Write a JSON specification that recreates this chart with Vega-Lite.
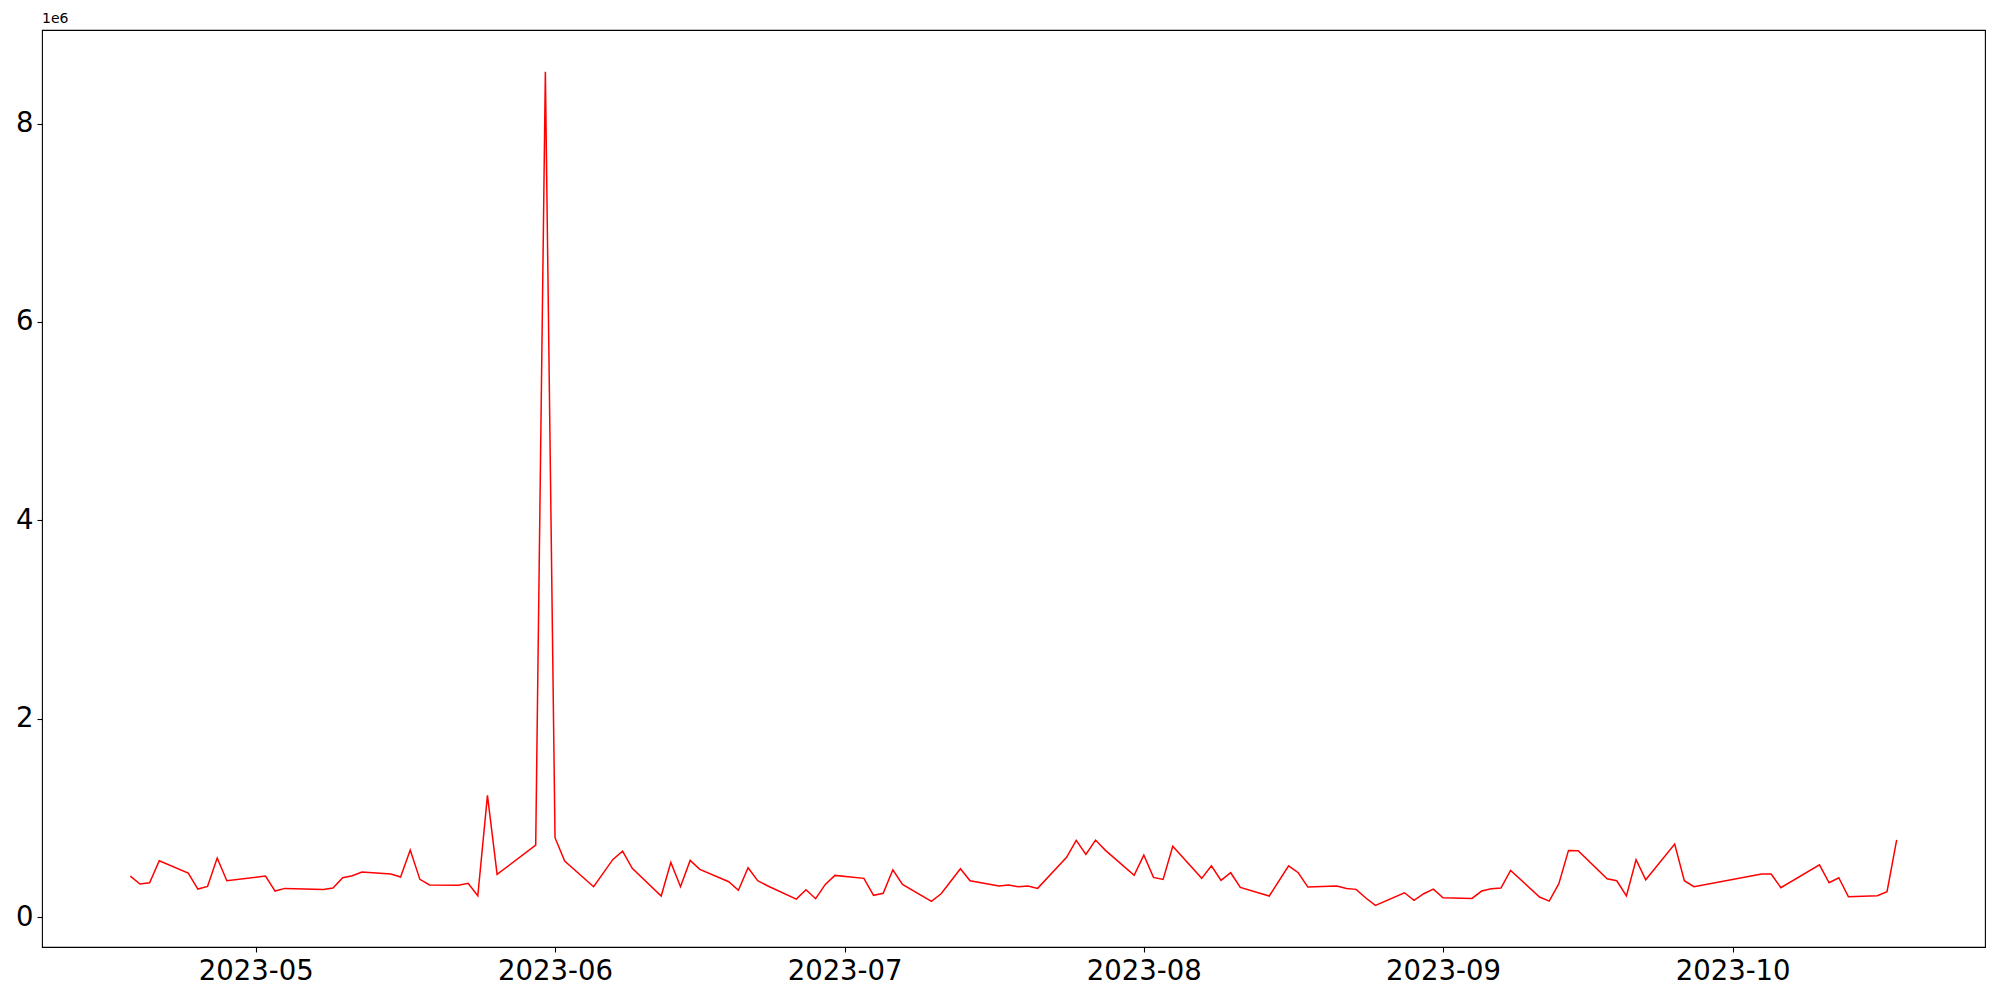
{
  "$schema": "https://vega.github.io/schema/vega-lite/v6.json",
  "autosize": "none",
  "width": 1943,
  "height": 917,
  "padding": {"left": 42, "top": 30, "right": 15, "bottom": 53},
  "background": "white",
  "config": {
    "view": {"stroke": "black", "strokeWidth": 1.1},
    "font": "DejaVu Sans",
    "axis": {"grid": false, "domain": false, "tickColor": "black", "tickSize": 5, "tickWidth": 1.1, "labelColor": "black", "labelFont": "DejaVu Sans", "labelFontSize": 27.5, "labelPadding": 4, "title": null}
  },
  "title": {"text": "1e6", "anchor": "start", "frame": "group", "fontSize": 14, "fontWeight": "normal", "font": "DejaVu Sans", "color": "black", "offset": 4},
  "data": {"values": [
    {"date": "2023-04-18", "volume": 413000},
    {"date": "2023-04-19", "volume": 333000},
    {"date": "2023-04-20", "volume": 346000},
    {"date": "2023-04-21", "volume": 568000},
    {"date": "2023-04-24", "volume": 443000},
    {"date": "2023-04-25", "volume": 282000},
    {"date": "2023-04-26", "volume": 309000},
    {"date": "2023-04-27", "volume": 595000},
    {"date": "2023-04-28", "volume": 366000},
    {"date": "2023-05-02", "volume": 413000},
    {"date": "2023-05-03", "volume": 262000},
    {"date": "2023-05-04", "volume": 289000},
    {"date": "2023-05-08", "volume": 279000},
    {"date": "2023-05-09", "volume": 292000},
    {"date": "2023-05-10", "volume": 396000},
    {"date": "2023-05-11", "volume": 417000},
    {"date": "2023-05-12", "volume": 454000},
    {"date": "2023-05-15", "volume": 433000},
    {"date": "2023-05-16", "volume": 403000},
    {"date": "2023-05-17", "volume": 675000},
    {"date": "2023-05-18", "volume": 380000},
    {"date": "2023-05-19", "volume": 323000},
    {"date": "2023-05-22", "volume": 320000},
    {"date": "2023-05-23", "volume": 340000},
    {"date": "2023-05-24", "volume": 215000},
    {"date": "2023-05-25", "volume": 1227000},
    {"date": "2023-05-26", "volume": 430000},
    {"date": "2023-05-30", "volume": 726000},
    {"date": "2023-05-31", "volume": 8524000},
    {"date": "2023-06-01", "volume": 800000},
    {"date": "2023-06-02", "volume": 565000},
    {"date": "2023-06-05", "volume": 306000},
    {"date": "2023-06-07", "volume": 581000},
    {"date": "2023-06-08", "volume": 665000},
    {"date": "2023-06-09", "volume": 491000},
    {"date": "2023-06-12", "volume": 212000},
    {"date": "2023-06-13", "volume": 551000},
    {"date": "2023-06-14", "volume": 306000},
    {"date": "2023-06-15", "volume": 571000},
    {"date": "2023-06-16", "volume": 481000},
    {"date": "2023-06-19", "volume": 356000},
    {"date": "2023-06-20", "volume": 269000},
    {"date": "2023-06-21", "volume": 497000},
    {"date": "2023-06-22", "volume": 366000},
    {"date": "2023-06-23", "volume": 316000},
    {"date": "2023-06-26", "volume": 181000},
    {"date": "2023-06-27", "volume": 275000},
    {"date": "2023-06-28", "volume": 185000},
    {"date": "2023-06-29", "volume": 329000},
    {"date": "2023-06-30", "volume": 420000},
    {"date": "2023-07-03", "volume": 390000},
    {"date": "2023-07-04", "volume": 219000},
    {"date": "2023-07-05", "volume": 239000},
    {"date": "2023-07-06", "volume": 477000},
    {"date": "2023-07-07", "volume": 329000},
    {"date": "2023-07-10", "volume": 158000},
    {"date": "2023-07-11", "volume": 235000},
    {"date": "2023-07-12", "volume": 361000},
    {"date": "2023-07-13", "volume": 487000},
    {"date": "2023-07-14", "volume": 366000},
    {"date": "2023-07-17", "volume": 312000},
    {"date": "2023-07-18", "volume": 323000},
    {"date": "2023-07-19", "volume": 306000},
    {"date": "2023-07-20", "volume": 312000},
    {"date": "2023-07-21", "volume": 289000},
    {"date": "2023-07-24", "volume": 602000},
    {"date": "2023-07-25", "volume": 773000},
    {"date": "2023-07-26", "volume": 632000},
    {"date": "2023-07-27", "volume": 776000},
    {"date": "2023-07-28", "volume": 675000},
    {"date": "2023-07-31", "volume": 420000},
    {"date": "2023-08-01", "volume": 625000},
    {"date": "2023-08-02", "volume": 400000},
    {"date": "2023-08-03", "volume": 380000},
    {"date": "2023-08-04", "volume": 713000},
    {"date": "2023-08-07", "volume": 390000},
    {"date": "2023-08-08", "volume": 517000},
    {"date": "2023-08-09", "volume": 370000},
    {"date": "2023-08-10", "volume": 447000},
    {"date": "2023-08-11", "volume": 299000},
    {"date": "2023-08-14", "volume": 212000},
    {"date": "2023-08-16", "volume": 517000},
    {"date": "2023-08-17", "volume": 447000},
    {"date": "2023-08-18", "volume": 302000},
    {"date": "2023-08-21", "volume": 312000},
    {"date": "2023-08-22", "volume": 289000},
    {"date": "2023-08-23", "volume": 279000},
    {"date": "2023-08-24", "volume": 192000},
    {"date": "2023-08-25", "volume": 118000},
    {"date": "2023-08-28", "volume": 245000},
    {"date": "2023-08-29", "volume": 168000},
    {"date": "2023-08-30", "volume": 235000},
    {"date": "2023-08-31", "volume": 282000},
    {"date": "2023-09-01", "volume": 195000},
    {"date": "2023-09-04", "volume": 188000},
    {"date": "2023-09-05", "volume": 262000},
    {"date": "2023-09-06", "volume": 285000},
    {"date": "2023-09-07", "volume": 292000},
    {"date": "2023-09-08", "volume": 471000},
    {"date": "2023-09-11", "volume": 202000},
    {"date": "2023-09-12", "volume": 161000},
    {"date": "2023-09-13", "volume": 336000},
    {"date": "2023-09-14", "volume": 672000},
    {"date": "2023-09-15", "volume": 668000},
    {"date": "2023-09-18", "volume": 386000},
    {"date": "2023-09-19", "volume": 366000},
    {"date": "2023-09-20", "volume": 212000},
    {"date": "2023-09-21", "volume": 578000},
    {"date": "2023-09-22", "volume": 376000},
    {"date": "2023-09-25", "volume": 736000},
    {"date": "2023-09-26", "volume": 366000},
    {"date": "2023-09-27", "volume": 306000},
    {"date": "2023-10-04", "volume": 433000},
    {"date": "2023-10-05", "volume": 433000},
    {"date": "2023-10-06", "volume": 296000},
    {"date": "2023-10-10", "volume": 527000},
    {"date": "2023-10-11", "volume": 346000},
    {"date": "2023-10-12", "volume": 396000},
    {"date": "2023-10-13", "volume": 205000},
    {"date": "2023-10-16", "volume": 215000},
    {"date": "2023-10-17", "volume": 255000},
    {"date": "2023-10-18", "volume": 779000}
  ]},
  "mark": {"type": "line", "color": "#ff0000", "strokeWidth": 1.5, "clip": true},
  "encoding": {
    "x": {
      "field": "date",
      "type": "temporal",
      "scale": {"type": "utc", "domain": [
        {"year": 2023, "month": 4, "date": 8, "hours": 20, "minutes": 24, "utc": true},
        {"year": 2023, "month": 10, "date": 27, "hours": 3, "minutes": 36, "utc": true}
      ], "nice": false},
      "axis": {
        "values": [
          {"year": 2023, "month": 5, "date": 1, "utc": true},
          {"year": 2023, "month": 6, "date": 1, "utc": true},
          {"year": 2023, "month": 7, "date": 1, "utc": true},
          {"year": 2023, "month": 8, "date": 1, "utc": true},
          {"year": 2023, "month": 9, "date": 1, "utc": true},
          {"year": 2023, "month": 10, "date": 1, "utc": true}
        ],
        "labelExpr": "utcFormat(datum.value, '%Y-%m')",
        "labelFontSize": 27.5,
        "labelBaseline": "top",
        "labelPadding": 5
      }
    },
    "y": {
      "field": "volume",
      "type": "quantitative",
      "scale": {"domain": [-302000, 8944000], "nice": false, "zero": false},
      "axis": {
        "values": [0, 2000000, 4000000, 6000000, 8000000],
        "labelFontSize": 27.5,
        "labelExpr": "format(datum.value / 1000000, 'd')"
      }
    }
  }
}
